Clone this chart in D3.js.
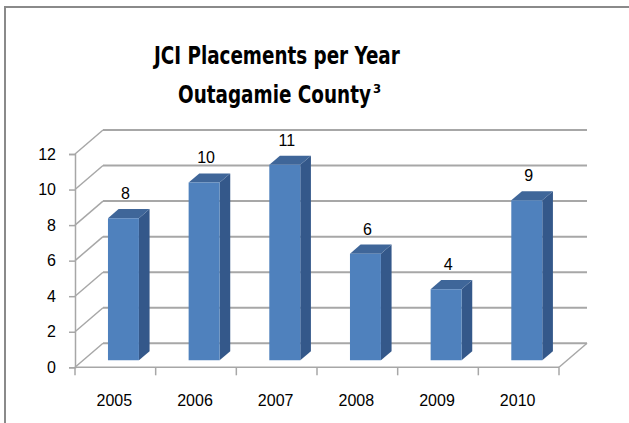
<!DOCTYPE html>
<html>
<head>
<meta charset="utf-8">
<script src="https://cdn.jsdelivr.net/npm/d3@7/dist/d3.min.js"></script>
<style>
  html, body { margin: 0; padding: 0; background: #fff; }
  svg { display: block; }
</style>
</head>
<body>
<svg id="chart" width="629" height="423"></svg>
<script>
// JCI placements per year, Outagamie County
const years = ["2005", "2006", "2007", "2008", "2009", "2010"];
const placements = [8, 10, 11, 6, 4, 9];
const yTicks = [0, 2, 4, 6, 8, 10, 12];
const titleLines = ["JCI Placements per Year", "Outagamie County"];
const titleSup = "3";

const svg = d3.select("#chart");
const W = 629, H = 423;

// 3D box: front plane, plus a depth vector towards the back wall
const DX = 28, DY = 24;
const barFront = 0.29, barBack = 0.67;   // bar position within the depth
const x = d3.scaleBand().domain(years).range([75, 559]).paddingInner(0).paddingOuter(0);
const y = d3.scaleLinear().domain([0, 12]).range([367.3, 154]);
const barW = x.bandwidth() * 0.384;

// project a front-plane point (px, value) to depth fraction f
const P = (px, v, f) => [px + f * DX, y(v) - f * DY];

const gridColor = "#a7a7a7";
const font = "'Liberation Sans', Arial, sans-serif";
const titleFont = "'Liberation Sans Narrow', 'DejaVu Sans Condensed', Arial, sans-serif";

// chart frame
svg.append("rect")
  .attr("x", 5).attr("y", 7)
  .attr("width", W + 10).attr("height", H + 10)
  .attr("fill", "none").attr("stroke", "#8a8a8a").attr("stroke-width", 2);

// title: each line squeezed horizontally to a fixed width
const titleG = svg.append("g")
  .attr("font-family", titleFont).attr("font-weight", "bold").attr("fill", "#000");
function titleLine(text, x0, y0, width, size) {
  const t = titleG.append("text").attr("font-size", size).text(text);
  const natural = t.node().getComputedTextLength();
  t.attr("transform", `translate(${x0},${y0}) scale(${width / natural},1)`);
  return t;
}
titleLine(titleLines[0], 154, 64, 246, 25);
titleLine(titleLines[1], 178, 103, 193, 25);
titleG.append("text")
  .attr("x", 373).attr("y", 93).attr("font-size", 13)
  .text(titleSup);

const walls = svg.append("g").attr("fill", "none").attr("stroke", gridColor);

// back wall gridlines
walls.selectAll("line.back").data(yTicks).join("line")
  .attr("class", "back")
  .attr("x1", d => P(x.range()[0], d, 1)[0]).attr("y1", d => P(x.range()[0], d, 1)[1])
  .attr("x2", d => P(x.range()[1], d, 1)[0]).attr("y2", d => P(x.range()[1], d, 1)[1])
  .attr("stroke-width", 2);

// side wall gridlines
walls.selectAll("line.side").data(yTicks).join("line")
  .attr("class", "side")
  .attr("x1", d => P(x.range()[0], d, 0)[0]).attr("y1", d => P(x.range()[0], d, 0)[1])
  .attr("x2", d => P(x.range()[0], d, 1)[0]).attr("y2", d => P(x.range()[0], d, 1)[1])
  .attr("stroke-width", 1.5);

// floor: front edge and right edge
walls.append("line")
  .attr("x1", x.range()[0]).attr("y1", y(0))
  .attr("x2", x.range()[1]).attr("y2", y(0))
  .attr("stroke-width", 1.5);
walls.append("line")
  .attr("x1", P(x.range()[1], 0, 0)[0]).attr("y1", P(x.range()[1], 0, 0)[1])
  .attr("x2", P(x.range()[1], 0, 1)[0]).attr("y2", P(x.range()[1], 0, 1)[1])
  .attr("stroke-width", 1.5);

// value axis
const yAxis = svg.append("g")
  .attr("transform", `translate(${x.range()[0]},0)`)
  .call(d3.axisLeft(y).tickValues(yTicks).tickSize(6).tickPadding(13).tickFormat(d3.format("d")));
yAxis.select(".domain").attr("stroke", gridColor).attr("stroke-width", 1.5);
yAxis.selectAll(".tick line").attr("stroke", gridColor).attr("stroke-width", 1.5);
yAxis.selectAll(".tick text")
  .attr("font-family", font).attr("font-size", 16).attr("fill", "#000");

// category axis: ticks on band boundaries, labels centred in bands
const bounds = years.map(d => x(d)).concat([x.range()[1]]);
svg.append("g").selectAll("line").data(bounds).join("line")
  .attr("x1", d => d).attr("x2", d => d)
  .attr("y1", y(0)).attr("y2", y(0) + 8)
  .attr("stroke", gridColor).attr("stroke-width", 1.5);
svg.append("g").selectAll("text").data(years).join("text")
  .attr("x", d => x(d) + x.bandwidth() / 2 - 1)
  .attr("y", 406)
  .attr("text-anchor", "middle")
  .attr("font-family", font).attr("font-size", 16).attr("fill", "#000")
  .text(d => d);

// bars
const data = years.map((yr, i) => ({ year: yr, value: placements[i] }));
const bars = svg.append("g").selectAll("g").data(data).join("g");

const left = d => x(d.year) + (x.bandwidth() - barW) / 2;
const poly = pts => pts.map(p => p.join(",")).join(" ");

// side face
bars.append("polygon")
  .attr("fill", "#34588a")
  .attr("points", d => {
    const r = left(d) + barW;
    return poly([P(r, 0, barFront), P(r, d.value, barFront), P(r, d.value, barBack), P(r, 0, barBack)]);
  });
// top face
bars.append("polygon")
  .attr("fill", "#3f6699")
  .attr("points", d => {
    const l = left(d), r = l + barW;
    return poly([P(l, d.value, barFront), P(r, d.value, barFront), P(r, d.value, barBack), P(l, d.value, barBack)]);
  });
// front face
bars.append("polygon")
  .attr("fill", "#4f81bd")
  .attr("points", d => {
    const l = left(d), r = l + barW;
    return poly([P(l, 0, barFront), P(r, 0, barFront), P(r, d.value, barFront), P(l, d.value, barFront)]);
  });

// value labels
bars.append("text")
  .attr("x", d => P(left(d) + barW / 2 + 2, d.value, barFront)[0])
  .attr("y", d => P(left(d), d.value, barBack)[1] - 10)
  .attr("text-anchor", "middle")
  .attr("font-family", font).attr("font-size", 16).attr("fill", "#000")
  .text(d => d.value);
</script>
</body>
</html>
